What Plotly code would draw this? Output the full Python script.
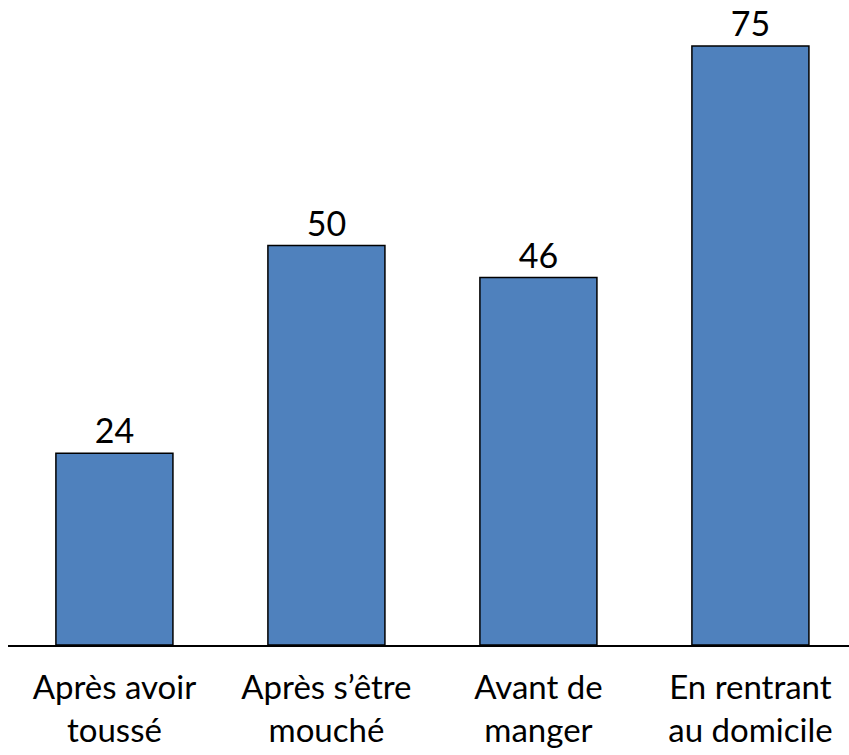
import plotly.graph_objects as go

categories = ["Après avoir<br>toussé", "Après s’être<br>mouché", "Avant de<br>manger", "En rentrant<br>au domicile"]
values = [24, 50, 46, 75]

fig = go.Figure(go.Bar(
    x=categories,
    y=values,
    text=[str(v) for v in values],
    textposition="outside",
    textfont=dict(family="Lato", size=34, color="black"),
    marker=dict(color="#4F81BD", line=dict(color="black", width=1.5)),
    cliponaxis=False,
))

fig.update_layout(
    width=849, height=755,
    margin=dict(l=8, r=0, t=0, b=110),
    paper_bgcolor="white", plot_bgcolor="white",
    bargap=0.448,
    showlegend=False,
    font=dict(family="Lato", size=34, color="black"),
)
fig.update_xaxes(
    range=[-0.502, 3.465],
    automargin=False,
    showline=True, linecolor="black", linewidth=2,
    showgrid=False, ticks="", zeroline=False,
    ticklabelstandoff=12,
    tickfont=dict(family="Lato", size=33, color="black"),
)
fig.update_yaxes(range=[0, 80.75], visible=False, automargin=False,
                 showgrid=False, zeroline=False)

fig.write_html(
    "out.html",
    config={"displayModeBar": False},
    post_script="document.body.style.margin='0';document.body.style.overflow='hidden';",
)
